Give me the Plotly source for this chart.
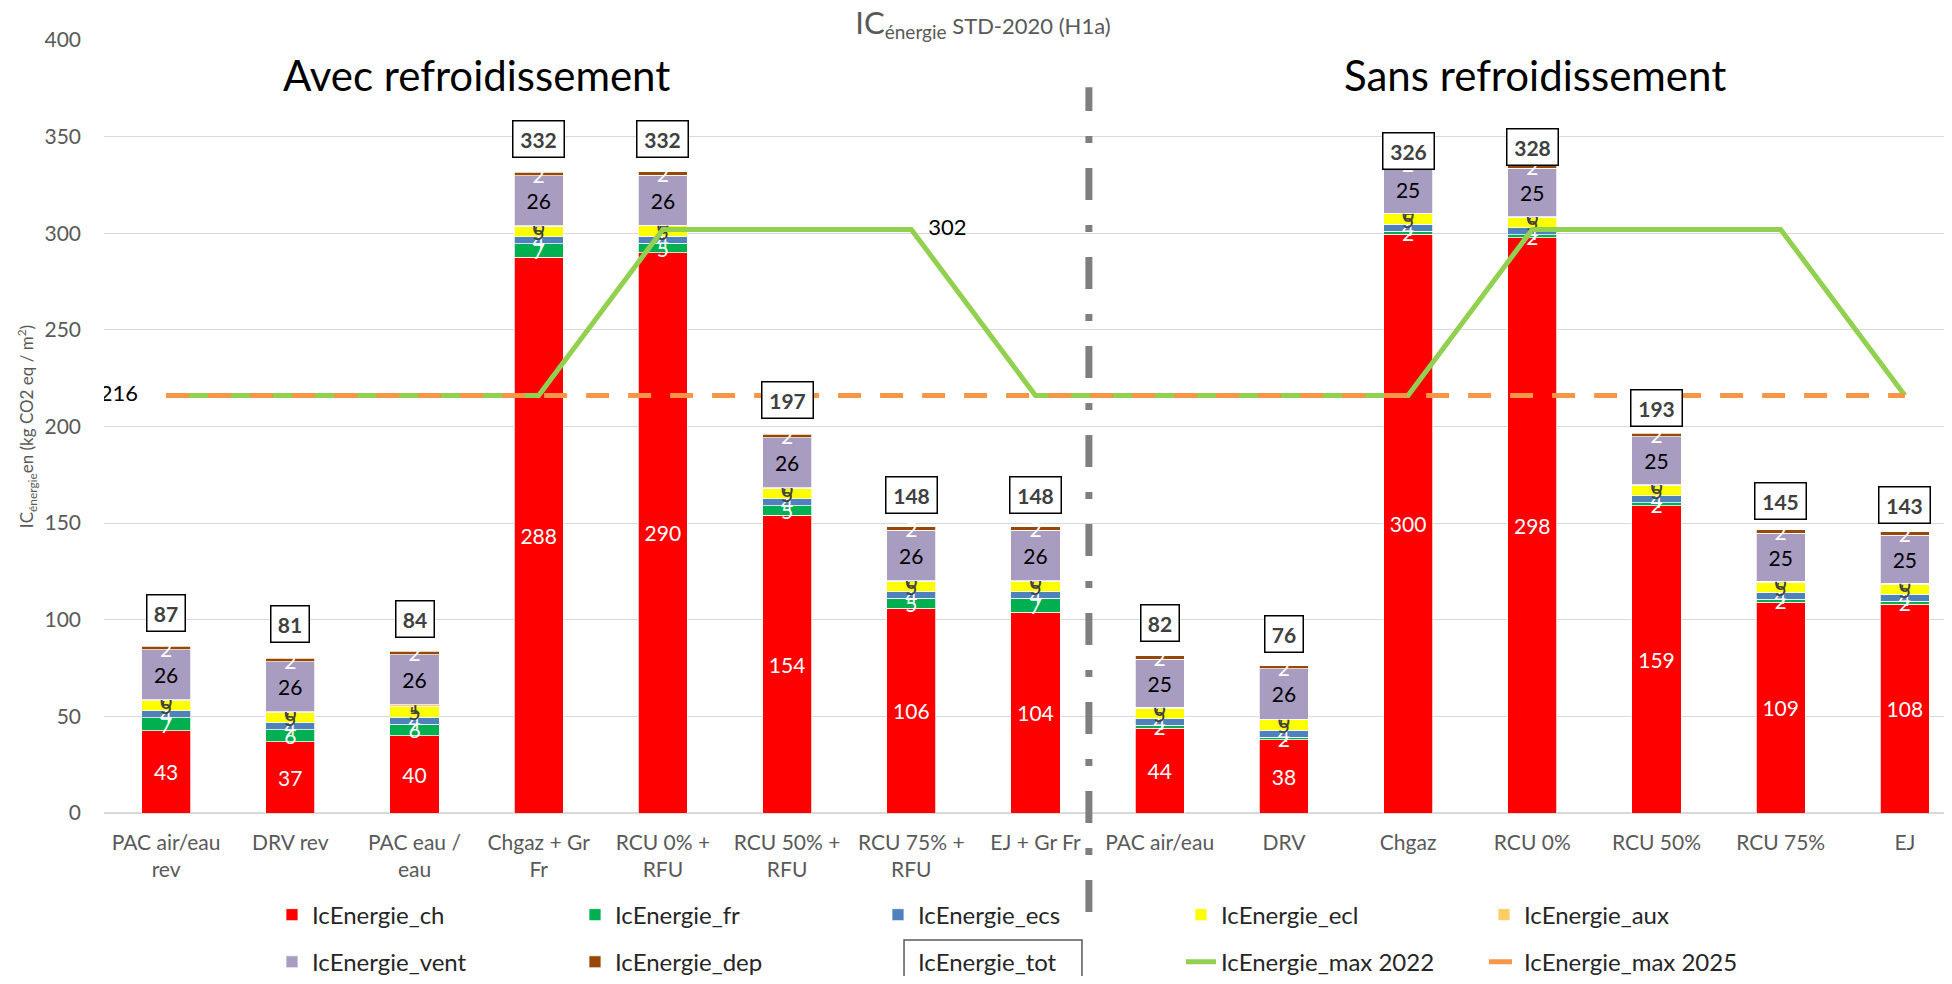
import plotly.graph_objects as go

# ---------------- data ----------------
categories = ["PAC air/eau<br>rev", "DRV rev", "PAC eau /<br>eau", "Chgaz + Gr<br>Fr",
              "RCU 0% +<br>RFU", "RCU 50% +<br>RFU", "RCU 75% +<br>RFU", "EJ + Gr Fr",
              "PAC air/eau", "DRV", "Chgaz", "RCU 0%", "RCU 50%", "RCU 75%", "EJ"]

ic_ch = [42.6, 37, 40, 287.5, 289.8, 154, 106, 104, 43.8, 37.8, 299.5, 297.8, 159, 109, 108]
ic_fr = [6.6, 6, 6, 7, 5, 5, 5, 7, 1.5, 1.5, 1.5, 1.5, 1.5, 1.5, 1.5]
ic_ecs = [3.6] * 15
ic_ecl = [5.4] * 15
ic_aux = [0.3, 0.3, 1, 0.3, 0.3, 0.3, 0.3, 0.3, 0.3, 0.3, 0.3, 0.3, 0.3, 0.3, 0.3]
ic_vent = [26, 26, 26, 26, 26, 26, 26, 26, 25, 26, 25, 25, 25, 25, 25]
ic_dep = [1.7] * 15
ic_tot = [87, 81, 84, 332, 332, 197, 148, 148, 82, 76, 326, 328, 193, 145, 143]
ic_max_2022 = [216, 216, 216, 216, 302, 302, 302, 216, 216, 216, 216, 302, 302, 302, 216]
ic_max_2025 = [216] * 15

label_2022 = ["", "", "", "", "", "", "302", "", "", "", "", "", "", "", ""]
label_2025 = ["216", "", "", "", "", "", "", "", "", "", "", "", "", "", ""]

FONT = "Lato"
GREY = "#595959"

bar_series = [
    ("IcEnergie_ch", ic_ch, "#FF0000", "white"),
    ("IcEnergie_fr", ic_fr, "#00B050", "white"),
    ("IcEnergie_ecs", ic_ecs, "#4F81BD", "white"),
    ("IcEnergie_ecl", ic_ecl, "#FFFF00", "#404040"),
    ("IcEnergie_aux", ic_aux, "#FFCC66", "#404040"),
    ("IcEnergie_vent", ic_vent, "#A89DC0", "black"),
    ("IcEnergie_dep", ic_dep, "#974706", "white"),
]

fig = go.Figure()
for i, (name, vals, col, tcol) in enumerate(bar_series):
    fig.add_trace(go.Bar(
        name=name, x=categories, y=vals,
        marker=dict(color=col, line=dict(color="white", width=0.75)),
        text=[f"{v:.0f}" for v in vals],
        textposition="inside", insidetextanchor="middle", textangle=0,
        constraintext="none",
        textfont=dict(family=FONT, size=21, color=tcol),
        legend="legend" if i < 5 else "legend2",
    ))

# total (legend entry only; labels as boxed annotations)
fig.add_trace(go.Scatter(
    name="IcEnergie_tot", x=categories, y=ic_tot, mode="markers",
    marker=dict(size=1, opacity=0), legend="legend2", hoverinfo="skip",
))

pad_r = "\u00a0" * 3
pad_l = "\u00a0" * 5
fig.add_trace(go.Scatter(
    name="IcEnergie_max 2022", x=categories, y=ic_max_2022, mode="lines+text",
    line=dict(color="#92D050", width=5),
    text=[(pad_r + t) if t else "" for t in label_2022],
    textposition="middle right",
    textfont=dict(family=FONT, size=22, color="black"),
    legend="legend2",
))
fig.add_trace(go.Scatter(
    name="IcEnergie_max 2025", x=categories, y=ic_max_2025, mode="lines+text",
    line=dict(color="#F79646", width=5, dash="23px,19px"),
    text=[(t + pad_l) if t else "" for t in label_2025],
    textposition="middle left",
    textfont=dict(family=FONT, size=22, color="black"),
    legend="legend2",
))

# boxed total labels
for c, t in zip(categories, ic_tot):
    fig.add_annotation(
        x=c, y=t, yshift=32, showarrow=False,
        text=f"<b>{t}</b>",
        font=dict(family=FONT, size=21, color="#404040"),
        bordercolor="black", borderwidth=1.5, borderpad=4, bgcolor="white",
        width=29 if t < 100 else 42, height=27, align="center",
    )

# section headings
fig.add_annotation(xref="paper", yref="paper", x=0.2027, y=0.9547, xanchor="center", yanchor="middle",
                   showarrow=False, text="Avec refroidissement",
                   font=dict(family=FONT, size=42, color="black"))
fig.add_annotation(xref="paper", yref="paper", x=0.7777, y=0.9547, xanchor="center", yanchor="middle",
                   showarrow=False, text="Sans refroidissement",
                   font=dict(family=FONT, size=42, color="black"))

# separator
SEP_X = 7.43
fig.add_shape(type="line", xref="x", yref="paper", x0=SEP_X, x1=SEP_X, y0=-0.128, y1=0.939,
              line=dict(color="#7F7F7F", width=7, dash="32px,25px,7px,25px"), layer="above")

# box around tot legend entry
fig.add_shape(type="rect", xref="paper", yref="paper", x0=0.4348, x1=0.5315, y0=-0.235, y1=-0.1643,
              line=dict(color="#595959", width=1.5), fillcolor="rgba(0,0,0,0)")

title_text = ("<span style='font-size:31px'>IC</span>"
              "<sub><span style='font-size:19px'>énergie</span></sub> STD-2020 (H1a)")

legend_common = dict(orientation="h", xanchor="left", yanchor="middle",
                     entrywidth=258, entrywidthmode="pixels",
                     font=dict(family=FONT, size=24, color="#262626"),
                     bgcolor="rgba(0,0,0,0)", traceorder="normal")

fig.update_layout(
    width=1936, height=968,
    margin=dict(l=96, r=0, t=32, b=163, autoexpand=False),
    paper_bgcolor="white", plot_bgcolor="white",
    barmode="stack", bargap=0.605,
    font=dict(family=FONT, color=GREY),
    title=dict(text=title_text, x=0.5036, xanchor="center", y=0.981, yanchor="middle",
               font=dict(family=FONT, size=22, color=GREY)),
    legend=dict(x=0.0913, y=-0.132, **legend_common),
    legend2=dict(x=0.0913, y=-0.193, **legend_common),
    showlegend=True,
)

fig.update_xaxes(
    type="category", range=[-0.5, 14.315], showgrid=False, showline=False, zeroline=False,
    ticks="", tickfont=dict(family=FONT, size=21, color=GREY), ticklabelstandoff=15,
    automargin=False,
)
fig.update_yaxes(
    range=[0, 400], dtick=50, showgrid=True, gridcolor="#D9D9D9", gridwidth=1.2,
    zeroline=True, zerolinecolor="#D9D9D9", zerolinewidth=1.5, showline=False, ticks="",
    tickfont=dict(family=FONT, size=21, color=GREY), ticklabelstandoff=22,
    title=dict(text="IC<sub>énergie</sub>en (kg CO2 eq / m<sup>2</sup>)",
               font=dict(family=FONT, size=17, color=GREY), standoff=6),
    automargin=False,
)

fig.write_html("out.html")
